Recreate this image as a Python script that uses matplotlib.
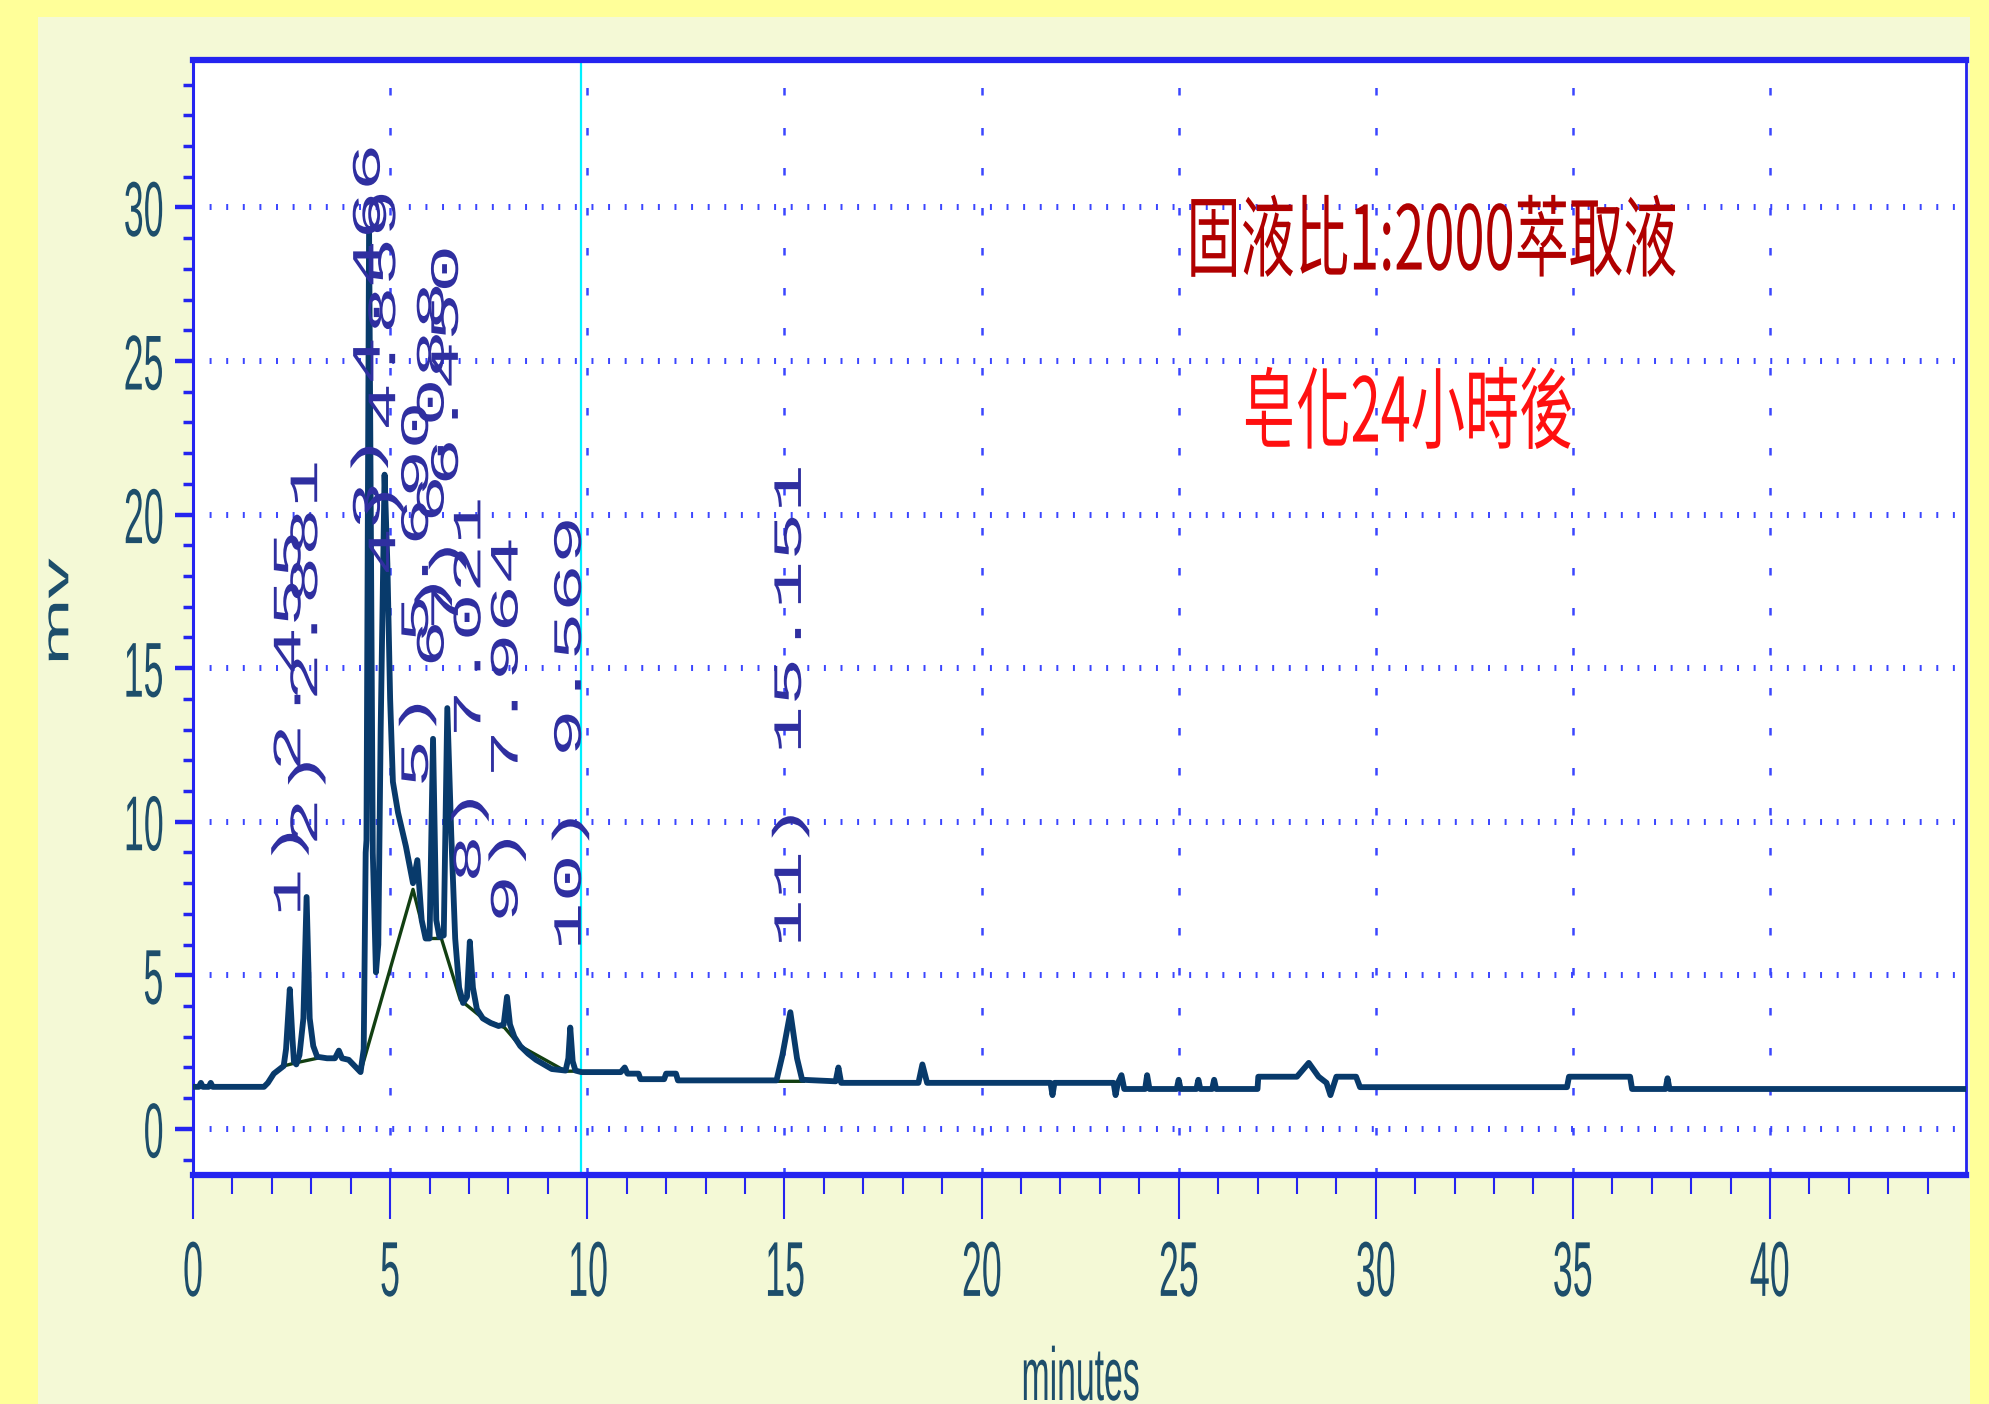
import matplotlib
matplotlib.use("Agg")
import matplotlib.pyplot as plt
from matplotlib.patches import Rectangle
from matplotlib.patheffects import AbstractPathEffect
from matplotlib.transforms import Affine2D
from matplotlib.ticker import MultipleLocator

# ---- chromatogram trace: retention time (min) and detector signal (mV) ----
trace_t = [0.00, 0.15, 0.20, 0.25, 0.40, 0.45, 0.50, 1.80, 1.90, 2.05, 2.20, 2.30,
           2.36, 2.455, 2.52, 2.56, 2.62, 2.70, 2.80, 2.881, 2.96, 3.05, 3.15, 3.40,
           3.60, 3.70, 3.78, 3.95, 4.10, 4.25, 4.33, 4.38, 4.40, 4.466, 4.56, 4.64,
           4.70, 4.76, 4.859, 4.93, 5.00, 5.07, 5.20, 5.40, 5.58, 5.690, 5.80, 5.90,
           6.00, 6.088, 6.17, 6.25, 6.36, 6.450, 6.55, 6.65, 6.75, 6.85, 6.95, 7.021,
           7.10, 7.20, 7.35, 7.55, 7.75, 7.88, 7.964, 8.04, 8.15, 8.30, 8.50, 8.70,
           8.90, 9.10, 9.45, 9.52, 9.569, 9.63, 9.70, 9.85, 10.85, 10.95, 11.02, 11.30,
           11.35, 11.95, 12.00, 12.25, 12.30, 14.80, 14.95, 15.151, 15.32, 15.45, 16.30,
           16.37, 16.44, 18.40, 18.50, 18.62, 21.75, 21.80, 21.85, 23.35, 23.40, 23.46,
           23.55, 23.62, 24.15, 24.20, 24.26, 24.95, 25.00, 25.05, 25.45, 25.50, 25.55,
           25.85, 25.90, 25.95, 27.00, 27.02, 28.00, 28.30, 28.55, 28.75, 28.85, 28.95,
           29.00, 29.50, 29.60, 34.85, 34.90, 36.45, 36.50, 37.35, 37.40, 37.45, 45.00]
trace_mv = [1.37, 1.37, 1.50, 1.37, 1.37, 1.50, 1.37, 1.37, 1.50, 1.80, 1.95, 2.05,
            2.60, 4.55, 3.00, 2.20, 2.10, 2.40, 3.60, 7.55, 3.60, 2.70, 2.35, 2.30,
            2.30, 2.55, 2.30, 2.25, 2.05, 1.85, 2.60, 9.00, 9.40, 29.30, 9.00, 5.10,
            6.00, 13.00, 21.30, 18.40, 14.00, 11.30, 10.30, 9.20, 8.00, 8.75, 6.80, 6.20,
            6.20, 12.70, 6.80, 6.25, 6.30, 13.70, 9.60, 6.20, 4.60, 4.10, 4.30, 6.10,
            4.60, 3.90, 3.60, 3.45, 3.35, 3.40, 4.30, 3.40, 3.00, 2.70, 2.45, 2.25,
            2.10, 1.95, 1.90, 2.30, 3.30, 2.20, 1.90, 1.85, 1.85, 2.00, 1.80, 1.80,
            1.62, 1.62, 1.80, 1.80, 1.58, 1.58, 2.40, 3.80, 2.30, 1.60, 1.55,
            2.00, 1.50, 1.50, 2.10, 1.50, 1.50, 1.10, 1.50, 1.50, 1.10, 1.50,
            1.75, 1.30, 1.30, 1.75, 1.30, 1.30, 1.60, 1.30, 1.30, 1.60, 1.30,
            1.30, 1.60, 1.30, 1.30, 1.70, 1.70, 2.15, 1.70, 1.50, 1.10, 1.50,
            1.70, 1.70, 1.36, 1.36, 1.70, 1.70, 1.30, 1.30, 1.65, 1.30, 1.30]

# ---- integration baselines (NaN separates the pieces) ----
nan = float("nan")
baseline_t = [2.30, 2.60, 3.15, nan,
              4.25, 5.58, 5.90, 6.30, 6.78, 7.40, 7.90, 8.30, 9.45, 9.75, nan,
              14.82, 15.48]
baseline_mv = [2.05, 2.15, 2.30, nan,
               1.85, 7.80, 6.20, 6.20, 4.20, 3.55, 3.30, 2.70, 1.88, 1.88, nan,
               1.55, 1.55]

# ---- peak annotations ----
peak_times = [2.455, 2.881, 4.466, 4.859, 5.690, 6.088, 6.450, 7.021, 7.964, 9.569, 15.151]
peak_labels = ["1) 2.455", "2) 2.881", "3) 4.466", "4) 4.859", "5) 5.690", "6) 6.088",
               "7) 6.450", "8) 7.021", "9) 7.964", "10) 9.569", "11) 15.151"]
label_start_mv = [6.9, 9.2, 19.5, 18.0, 11.1, 15.0, 16.2, 8.0, 6.7, 5.8, 5.9]

cursor_time = 9.83
title_lines = ["固液比1:2000萃取液", "皂化24小時後"]
x_label = "minutes"
y_label = "mv"

# ---- colours ----
OUTER = "#FFFF99"
PANEL = "#F4F9D6"
FRAME = "#2424F0"
GRID = "#3B46FF"
TRACE = "#083A6B"
BASE = "#123F12"
TICKTXT = "#1D4E6B"
PEAKTXT = "#2F2FA0"


class Squeeze(AbstractPathEffect):
    """Draw glyph outlines compressed horizontally about a pivot of their box."""

    def __init__(self, sx, pivot=0.5):
        super().__init__()
        self.sx = sx
        self.pivot = pivot

    def draw_path(self, renderer, gc, tpath, affine, rgbFace=None):
        box = tpath.get_extents(affine)
        px = box.x0 + self.pivot * box.width
        squeeze = Affine2D().translate(-px, 0).scale(self.sx, 1.0).translate(px, 0)
        renderer.draw_path(gc, tpath, affine + squeeze, rgbFace)


plt.rcParams["font.family"] = ["Liberation Sans", "DejaVu Sans"]

W, H = 1989, 1404
fig = plt.figure(figsize=(W / 100, H / 100), dpi=100, facecolor=OUTER)
fig.patches.append(Rectangle((38 / W, 0), (1970 - 38) / W, (H - 17) / H,
                             transform=fig.transFigure, facecolor=PANEL,
                             edgecolor="none", zorder=-5))

ax = fig.add_axes([193 / W, (H - 1175) / H, (1966 - 193) / W, (1175 - 60) / H])
ax.set_zorder(1)
ax.set_facecolor("white")
ax.set_xlim(0, 44.97)
ax.set_ylim(-1.5, 34.8)

# frame
for side, lw in (("top", 4.5), ("bottom", 4.5), ("left", 2.2), ("right", 2.0)):
    ax.spines[side].set_color(FRAME)
    ax.spines[side].set_linewidth(lw)

# ticks
ax.xaxis.set_major_locator(MultipleLocator(5))
ax.xaxis.set_minor_locator(MultipleLocator(1))
ax.yaxis.set_major_locator(MultipleLocator(5))
ax.yaxis.set_minor_locator(MultipleLocator(1))
ax.tick_params(axis="x", which="major", direction="out", length=32, width=1.5,
               color=FRAME, pad=14, labelsize=56, labelcolor=TICKTXT)
ax.tick_params(axis="x", which="minor", direction="out", length=14, width=1.5, color=FRAME)
ax.tick_params(axis="y", which="major", direction="out", length=13, width=3.2,
               color=FRAME, pad=7, labelsize=56, labelcolor=TICKTXT)
ax.tick_params(axis="y", which="minor", direction="out", length=7.5, width=2.5, color=FRAME)
for lbl in ax.get_xticklabels():
    lbl.set_path_effects([Squeeze(0.46, 0.5)])
for lbl in ax.get_yticklabels():
    lbl.set_path_effects([Squeeze(0.46, 1.0)])

# dotted grid
ax.set_axisbelow(True)
ax.yaxis.grid(True, which="major", color=GRID, linewidth=4.3,
              linestyle=(0, (0.33, 2.45)))
ax.xaxis.grid(True, which="major", color=GRID, linewidth=1.8,
              linestyle=(0, (3, 13)))

# cursor line
ax.axvline(cursor_time, color="#00F0FF", linewidth=1.6, zorder=1.5)

# baselines and trace
ax.plot(baseline_t, baseline_mv, color=BASE, linewidth=2.4, zorder=2)
ax.plot(trace_t, trace_mv, color=TRACE, linewidth=4.2, zorder=3)

# peak labels
for t, lab, y0 in zip(peak_times, peak_labels, label_start_mv):
    ax.text(t, y0, lab, rotation=90, ha="center", va="bottom",
            family="Liberation Mono", fontsize=58, color=PEAKTXT, zorder=4,
            path_effects=[Squeeze(0.5, 0.5)])

# sample description
cjk = ["Noto Sans CJK TC", "DejaVu Sans"]
ax.text(31.4, 28.8, title_lines[0], ha="center", va="center", family=cjk,
        fontsize=64, color="#B00000", zorder=5, path_effects=[Squeeze(0.61, 0.5)])
ax.text(30.8, 23.2, title_lines[1], ha="center", va="center", family=cjk,
        fontsize=64, color="#FF1010", zorder=5, path_effects=[Squeeze(0.61, 0.5)])

# axis titles
fig.text(1080 / W, 4 / H, x_label, ha="center", va="baseline", fontsize=54,
         color=TICKTXT, path_effects=[Squeeze(0.45, 0.5)])
fig.text(59 / W, 1 - 612 / H, y_label, ha="center", va="center", rotation=90,
         fontsize=58, color=TICKTXT, path_effects=[Squeeze(0.46, 0.5)])

fig.savefig("out.png", dpi=100, facecolor=fig.get_facecolor())
